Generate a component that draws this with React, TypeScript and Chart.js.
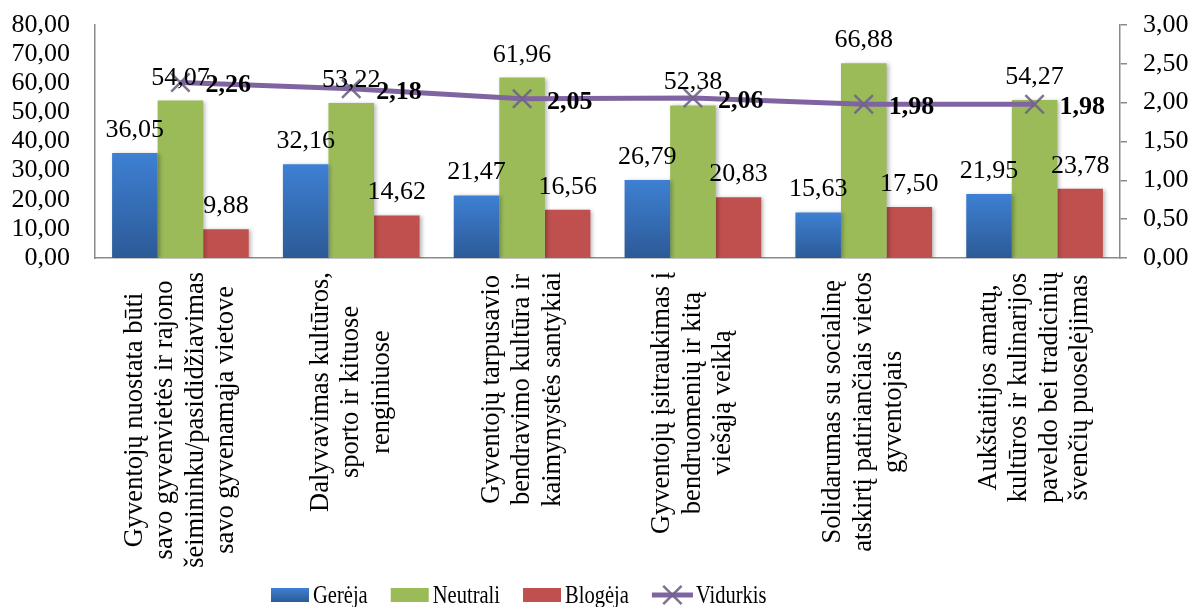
import React, { useEffect, useRef } from "react";
import { Chart, registerables } from "chart.js";

Chart.register(...registerables);

const categories: string[][] = [
  ["Gyventojų nuostata būti", "savo gyvenvietės ir rajono", "šeimininku/pasididžiavimas", "savo gyvenamąja vietove"],
  ["Dalyvavimas kultūros,", "sporto ir kituose", "renginiuose"],
  ["Gyventojų tarpusavio", "bendravimo kultūra ir", "kaimynystės santykiai"],
  ["Gyventojų įsitraukimas į", "bendruomenių ir kitą", "viešąją veiklą"],
  ["Solidarumas su socialinę", "atskirtį patiriančiais vietos", "gyventojais"],
  ["Aukštaitijos amatų,", "kultūros ir kulinarijos", "paveldo bei tradicinių", "švenčių puoselėjimas"],
];

const gerejaValues = [36.05, 32.16, 21.47, 26.79, 15.63, 21.95];
const neutraliValues = [54.07, 53.22, 61.96, 52.38, 66.88, 54.27];
const blogejaValues = [9.88, 14.62, 16.56, 20.83, 17.5, 23.78];
const vidurkisValues = [2.26, 2.18, 2.05, 2.06, 1.98, 1.98];

const seriesNames = ["Gerėja", "Neutrali", "Blogėja", "Vidurkis"];

const leftAxisMin = 0;
const leftAxisMax = 80;
const leftAxisStep = 10;
const rightAxisMin = 0;
const rightAxisMax = 3;
const rightAxisStep = 0.5;

const FONT = "'Liberation Serif', 'Times New Roman', serif";
const BLUE_TOP = "#3E80D3";
const BLUE_BOTTOM = "#2C5A97";
const GREEN = "#9BBB59";
const RED = "#C0504D";
const PURPLE = "#8064A2";
const MARKER = "rgba(112,100,134,0.9)";
const AXIS = "#8A8A8A";

const fmt = (v: number) => v.toFixed(2).replace(".", ",");

function blueFill(c: any) {
  const chart = c.chart;
  const ys = chart.scales && chart.scales.y;
  if (!ys || typeof c.raw !== "number") return BLUE_TOP;
  const top = ys.getPixelForValue(c.raw);
  const bottom = ys.getPixelForValue(0);
  if (!isFinite(top) || !isFinite(bottom) || bottom - top < 1) return BLUE_TOP;
  const g = chart.ctx.createLinearGradient(0, top, 0, bottom);
  g.addColorStop(0, BLUE_TOP);
  g.addColorStop(1, BLUE_BOTTOM);
  return g;
}

function drawCross(ctx: CanvasRenderingContext2D, x: number, y: number, r: number) {
  const d = r * Math.SQRT1_2;
  ctx.beginPath();
  ctx.moveTo(x - d, y - d);
  ctx.lineTo(x + d, y + d);
  ctx.moveTo(x + d, y - d);
  ctx.lineTo(x - d, y + d);
  ctx.stroke();
}

const shadowPlugin = {
  id: "barShadow",
  beforeDatasetDraw(chart: any, args: any) {
    const ds = chart.data.datasets[args.index];
    if (ds.type === "line") return;
    const ctx = chart.ctx;
    ctx.save();
    ctx.shadowColor = "rgba(0,0,0,0.28)";
    ctx.shadowBlur = 4;
    ctx.shadowOffsetX = 2;
    ctx.shadowOffsetY = 1;
  },
  afterDatasetDraw(chart: any, args: any) {
    const ds = chart.data.datasets[args.index];
    if (ds.type === "line") return;
    chart.ctx.restore();
  },
};

const valueLabelPlugin = {
  id: "valueLabels",
  afterDatasetsDraw(chart: any) {
    const ctx = chart.ctx;
    ctx.save();
    ctx.fillStyle = "#000";
    chart.data.datasets.forEach((ds: any, di: number) => {
      const meta = chart.getDatasetMeta(di);
      meta.data.forEach((el: any, i: number) => {
        const v = ds.data[i];
        if (ds.type === "line") {
          ctx.font = `bold 26px ${FONT}`;
          ctx.textAlign = "left";
          ctx.textBaseline = "alphabetic";
          ctx.fillText(fmt(v), el.x + 25, el.y + 10);
        } else {
          ctx.font = `26px ${FONT}`;
          ctx.textAlign = "center";
          ctx.textBaseline = "alphabetic";
          ctx.fillText(fmt(v), el.x, el.y - 16);
        }
      });
    });
    ctx.restore();
  },
};

const categoryLabelPlugin = {
  id: "categoryLabels",
  afterDraw(chart: any) {
    const ctx = chart.ctx;
    const xs = chart.scales.x;
    const topY = chart.chartArea.bottom + 14;
    const lh = 30.5;
    ctx.save();
    ctx.fillStyle = "#000";
    ctx.font = `26.5px ${FONT}`;
    ctx.textAlign = "center";
    ctx.textBaseline = "middle";
    categories.forEach((lines, i) => {
      const cx = xs.getPixelForValue(i);
      const maxW = Math.max(...lines.map((l) => ctx.measureText(l).width));
      ctx.save();
      ctx.translate(cx, topY + maxW / 2);
      ctx.rotate(-Math.PI / 2);
      lines.forEach((l, j) => {
        ctx.fillText(l, 0, (j - (lines.length - 1) / 2) * lh);
      });
      ctx.restore();
    });
    ctx.restore();
  },
};

const legendPlugin = {
  id: "customLegend",
  afterDraw(chart: any) {
    const ctx = chart.ctx;
    const squeeze = 0.79;
    const boxW = 38;
    const boxH = 14;
    const midY = 595;
    const baseY = 603;
    let x = 271;
    ctx.save();
    ctx.font = `26px ${FONT}`;
    ctx.textBaseline = "alphabetic";
    ctx.textAlign = "left";
    const fills: any[] = [null, GREEN, RED];
    seriesNames.forEach((name, i) => {
      if (i < 3) {
        if (i === 0) {
          const g = ctx.createLinearGradient(0, midY - boxH / 2, 0, midY + boxH / 2);
          g.addColorStop(0, BLUE_TOP);
          g.addColorStop(1, BLUE_BOTTOM);
          ctx.fillStyle = g;
        } else {
          ctx.fillStyle = fills[i];
        }
        ctx.fillRect(x, midY - boxH / 2, boxW, boxH);
        x += boxW + 4;
      } else {
        ctx.strokeStyle = PURPLE;
        ctx.lineWidth = 5;
        ctx.beginPath();
        ctx.moveTo(x, midY);
        ctx.lineTo(x + 41, midY);
        ctx.stroke();
        ctx.strokeStyle = MARKER;
        ctx.lineWidth = 2.5;
        drawCross(ctx, x + 20.5, midY, 13);
        x += 44;
      }
      ctx.fillStyle = "#000";
      ctx.save();
      ctx.translate(x, baseY);
      ctx.scale(squeeze, 1);
      ctx.fillText(name, 0, 0);
      ctx.restore();
      x += ctx.measureText(name).width * squeeze + 23;
    });
    ctx.restore();
  },
};

export default function App() {
  const canvasRef = useRef<HTMLCanvasElement | null>(null);

  useEffect(() => {
    const canvas = canvasRef.current;
    if (!canvas) return;
    Chart.defaults.font.family = FONT;
    const chart = new Chart(canvas, {
      type: "bar",
      data: {
        labels: categories.map((c) => c.join(" ")),
        datasets: [
          {
            type: "bar",
            label: seriesNames[0],
            data: gerejaValues,
            backgroundColor: blueFill as any,
            borderWidth: 0,
            yAxisID: "y",
            order: 1,
            categoryPercentage: 0.8,
            barPercentage: 1.0,
          },
          {
            type: "bar",
            label: seriesNames[1],
            data: neutraliValues,
            backgroundColor: GREEN,
            borderWidth: 0,
            yAxisID: "y",
            order: 1,
            categoryPercentage: 0.8,
            barPercentage: 1.0,
          },
          {
            type: "bar",
            label: seriesNames[2],
            data: blogejaValues,
            backgroundColor: RED,
            borderWidth: 0,
            yAxisID: "y",
            order: 1,
            categoryPercentage: 0.8,
            barPercentage: 1.0,
          },
          {
            type: "line",
            label: seriesNames[3],
            data: vidurkisValues,
            borderColor: PURPLE,
            borderWidth: 5,
            tension: 0,
            pointStyle: "crossRot",
            pointRadius: 13,
            pointBorderColor: MARKER,
            pointBorderWidth: 2.5,
            pointBackgroundColor: "transparent",
            yAxisID: "y1",
            order: 0,
          } as any,
        ],
      },
      options: {
        responsive: false,
        animation: false,
        layout: { padding: { top: 25, left: 0, right: 0, bottom: 0 } },
        plugins: {
          legend: { display: false },
          tooltip: { enabled: false },
        },
        scales: {
          x: {
            type: "category",
            grid: { display: false, drawTicks: false },
            border: { display: true, color: AXIS, width: 1.5 },
            ticks: { display: false },
            afterFit: (s: any) => {
              s.height = 349;
              s.paddingLeft = 0;
              s.paddingRight = 0;
            },
          },
          y: {
            position: "left",
            min: leftAxisMin,
            max: leftAxisMax,
            grid: { display: false, drawTicks: false },
            border: { display: true, color: AXIS, width: 1.5 },
            ticks: {
              stepSize: leftAxisStep,
              autoSkip: false,
              color: "#000",
              padding: 25,
              font: { size: 26, family: FONT },
              callback: (v: any) => fmt(Number(v)),
            },
            afterFit: (s: any) => {
              s.width = 95;
              s.paddingTop = 0;
              s.paddingBottom = 0;
            },
          },
          y1: {
            position: "right",
            min: rightAxisMin,
            max: rightAxisMax,
            grid: {
              display: true,
              drawOnChartArea: false,
              drawTicks: true,
              tickLength: 7,
              color: AXIS,
              lineWidth: 1.5,
            },
            border: { display: true, color: AXIS, width: 1.5 },
            ticks: {
              stepSize: rightAxisStep,
              autoSkip: false,
              color: "#000",
              padding: 16,
              font: { size: 26, family: FONT },
              callback: (v: any) => fmt(Number(v)),
            },
            afterFit: (s: any) => {
              s.width = 72;
              s.paddingTop = 0;
              s.paddingBottom = 0;
            },
          },
        },
      },
      plugins: [shadowPlugin, valueLabelPlugin, categoryLabelPlugin, legendPlugin],
    });
    return () => chart.destroy();
  }, []);

  return (
    <div style={{ position: "fixed", left: 0, top: 0, width: 1192, height: 607, background: "#fff" }}>
      <canvas ref={canvasRef} width={1192} height={607} style={{ display: "block", width: 1192, height: 607 }} />
    </div>
  );
}
